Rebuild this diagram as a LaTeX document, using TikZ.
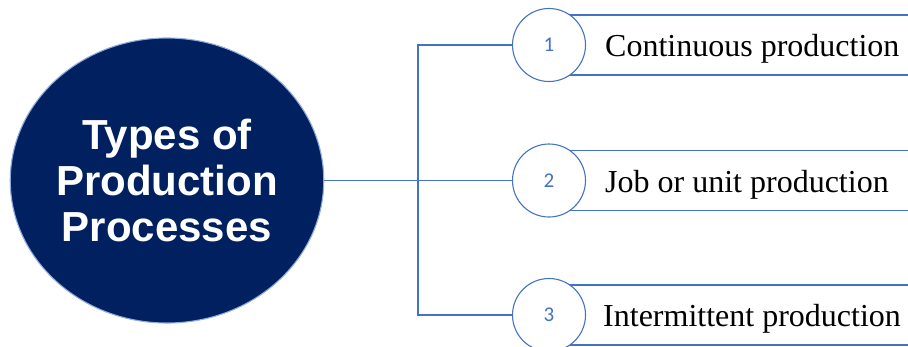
\documentclass[tikz,border=0pt]{standalone}
\usepackage{fontspec}
\setmainfont{Liberation Serif}
\newfontfamily\arialf{Liberation Sans}
\newfontfamily\calib{Carlito}
\usetikzlibrary{shapes.geometric}
\definecolor{navy}{HTML}{002060}
\definecolor{lblue}{HTML}{4472C4}
\definecolor{edgeblue}{HTML}{8FAADC}
\tikzset{
  conn/.style={draw=lblue, line width=1.1pt},
  numcirc/.style={circle, draw=lblue, line width=1.1pt, fill=white, minimum size=73pt, inner sep=0pt,
    font=\calib\fontsize{21}{24}\selectfont, text=lblue},
  itembox/.style={draw=lblue, line width=1.1pt, fill=white, minimum height=60pt, minimum width=400pt, inner sep=0pt, anchor=west},
  itemtext/.style={anchor=west, inner sep=0pt, font=\fontsize{32}{36}\selectfont, text=black}
}
\begin{document}
\begin{tikzpicture}[x=1pt,y=-1pt]
\useasboundingbox (0,0) rectangle (908,346);
\clip (0,0) rectangle (908,346);
\node[ellipse, fill=navy, draw=edgeblue, line width=1.1pt, minimum width=312pt, minimum height=285pt, inner sep=0pt,
  align=center, text=white, font=\arialf\bfseries\fontsize{42}{46}\selectfont] (main) at (167,180.5)
  {Types of\\Production\\Processes};
\coordinate (j) at (418,180.5);
% boxes
\node[itembox] (b1) at (549,45) {};
\node[itembox] (b2) at (549,180.5) {};
\node[itembox] (b3) at (549,315) {};
% connectors
\draw[conn] (main.east) -- (j);
\node[numcirc] (c1) at (549,45) {1};
\node[numcirc] (c2) at (549,180.5) {2};
\node[numcirc] (c3) at (549,315) {3};
\draw[conn] (j) |- (c1.west);
\draw[conn] (j) |- (c3.west);
\draw[conn] (j) -- (c2.west);
\node[itemtext] (t1) at (605,49) {Continuous production};
\node[itemtext] (t2) at (605,184.5) {Job or unit production};
\node[itemtext] (t3) at (603,319) {Intermittent production};
\end{tikzpicture}
\end{document}
